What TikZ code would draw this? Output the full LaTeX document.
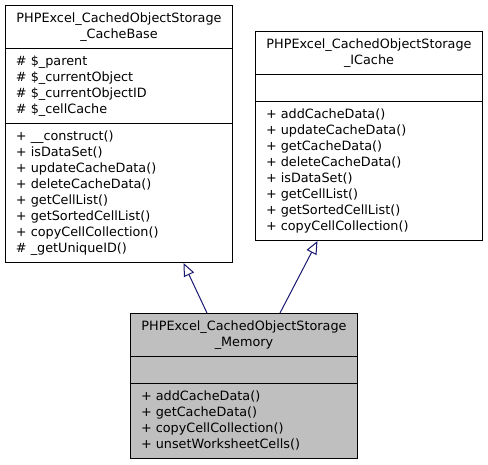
\documentclass[tikz,border=0pt]{standalone}
\usepackage{fontspec}
\setmainfont{DejaVu Sans}
\usepackage{tikz}
\usetikzlibrary{shapes.multipart, arrows.meta}
\definecolor{edgeblue}{HTML}{191970}
\definecolor{classgray}{HTML}{BFBFBF}
\tikzstyle{classbox} = [rectangle split, rectangle split parts=3, draw=black, line width=1pt, fill=white, inner xsep=10.5pt, inner ysep=5pt, font=\fontsize{12.8}{16}\selectfont]
\tikzstyle{current} = [classbox, fill=classgray]
\tikzstyle{arrow} = [edgeblue, line width=1pt, -{Triangle[open, length=13pt, width=11pt, fill=white]}]
\newcommand{\classtitle}[1]{\parbox{206pt}{\centering\strut #1\strut}}
\newcommand{\classlist}[1]{\parbox{206pt}{\raggedright\strut #1\strut}}

\begin{document}
\begin{tikzpicture}[x=1pt, y=-1pt]
            \useasboundingbox (0,0) rectangle (488,464);
            \node (cachebase) [classbox, anchor=north west] at (5,5)
                {\classtitle{PHPExcel\_CachedObjectStorage\\ \_CacheBase}
                \nodepart{two}\classlist{\# \$\_parent\\ \# \$\_currentObject\\ \# \$\_currentObjectID\\ \# \$\_cellCache}
                \nodepart{three}\classlist{+ \_\_construct()\\ + isDataSet()\\ + updateCacheData()\\ + deleteCacheData()\\ + getCellList()\\ + getSortedCellList()\\ + copyCellCollection()\\ \# \_getUniqueID()}};
            \node (icache) [classbox, anchor=north west] at (255,31)
                {\classtitle{PHPExcel\_CachedObjectStorage\\ \_ICache}
                \nodepart{two}\classlist{}
                \nodepart{three}\classlist{+ addCacheData()\\ + updateCacheData()\\ + getCacheData()\\ + deleteCacheData()\\ + isDataSet()\\ + getCellList()\\ + getSortedCellList()\\ + copyCellCollection()}};
            \node (memory) [current, anchor=north west] at (130,313)
                {\classtitle{PHPExcel\_CachedObjectStorage\\ \_Memory}
                \nodepart{two}\classlist{}
                \nodepart{three}\classlist{+ addCacheData()\\ + getCacheData()\\ + copyCellCollection()\\ + unsetWorksheetCells()}};

            \draw [arrow] ([xshift=-37pt]memory.north) -- ([xshift=64.5pt]cachebase.south);
            \draw [arrow] ([xshift=36pt]memory.north) -- ([xshift=-51.5pt]icache.south);

            \end{tikzpicture}
\end{document}
